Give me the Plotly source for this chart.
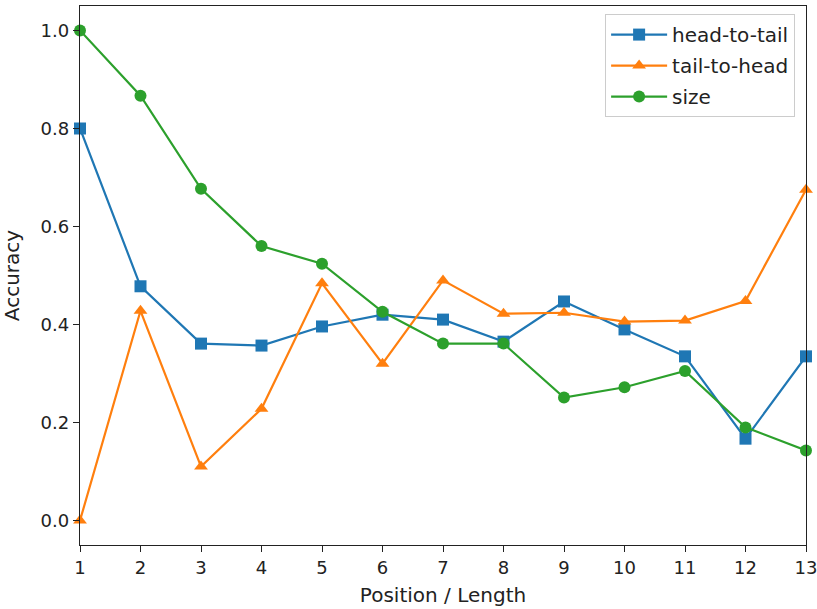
import plotly.graph_objects as go

positions = list(range(1, 14))
head_to_tail = [0.80, 0.478, 0.361, 0.357, 0.396, 0.42, 0.41, 0.365, 0.447, 0.39, 0.335, 0.167, 0.335]
tail_to_head = [0.0, 0.428, 0.11, 0.228, 0.484, 0.32, 0.49, 0.422, 0.424, 0.406, 0.408, 0.448, 0.675]
size = [1.0, 0.867, 0.677, 0.56, 0.524, 0.426, 0.361, 0.361, 0.251, 0.272, 0.305, 0.19, 0.143]

series = [
    ("head-to-tail", head_to_tail, "#1f77b4", "square"),
    ("tail-to-head", tail_to_head, "#ff7f0e", "triangle-up"),
    ("size", size, "#2ca02c", "circle"),
]

fig = go.Figure()
for name, vals, color, sym in series:
    fig.add_trace(go.Scatter(
        x=positions, y=vals, name=name, mode="lines+markers",
        legendgroup=name,
        line=dict(color=color, width=2.2),
        marker=dict(symbol=sym, size=12, color=color),
        cliponaxis=False,
    ))

axis_common = dict(
    showline=True, linecolor="#222", linewidth=1.3, mirror=True,
    ticks="outside", ticklen=6, tickcolor="#222", tickwidth=1.3,
    showgrid=False, zeroline=False, automargin=False,
    ticklabeloverflow="allow",
    tickfont=dict(size=18, color="#222"),
)

fig.update_layout(
    width=817, height=609,
    margin=dict(l=80, r=11, t=6, b=64),
    paper_bgcolor="white", plot_bgcolor="white",
    font=dict(family="DejaVu Sans", size=18, color="#222"),
    xaxis=dict(range=[1, 13], tickvals=positions,
               title=dict(text="Position / Length", font=dict(size=20), standoff=11),
               **axis_common),
    yaxis=dict(range=[-0.05, 1.05], tickvals=[0.0, 0.2, 0.4, 0.6, 0.8, 1.0],
               tickformat=".1f",
               title=dict(text="Accuracy", font=dict(size=20), standoff=16),
               **axis_common),
    legend=dict(x=0.985, y=0.985, xanchor="right", yanchor="top",
                bordercolor="#cccccc", borderwidth=1, bgcolor="rgba(255,255,255,0.8)",
                font=dict(size=20), itemwidth=56, tracegroupgap=2,
                traceorder="grouped"),
)

fig.write_html("out.html", config={"displayModeBar": False},
               post_script="document.body.style.margin='0';")
